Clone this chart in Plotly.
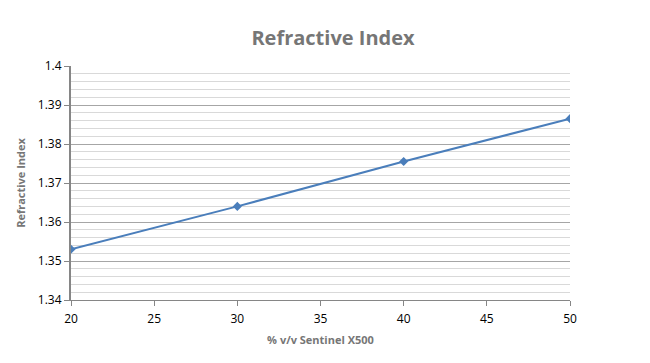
import plotly.graph_objects as go

x_vals = [20, 30, 40, 50]
ri_vals = [1.353, 1.364, 1.3755, 1.3865]
x_ticks = [20, 25, 30, 35, 40, 45, 50]
y_ticks = [1.34, 1.35, 1.36, 1.37, 1.38, 1.39, 1.4]
y_tick_text = ["1.34", "1.35", "1.36", "1.37", "1.38", "1.39", "1.4"]

fig = go.Figure()
fig.add_trace(go.Scatter(
    x=x_vals, y=ri_vals, mode="lines+markers",
    line=dict(color="#4a7ebb", width=2),
    marker=dict(symbol="diamond", size=7, color="#4a7ebb"),
    showlegend=False,
))

font = "Open Sans, Liberation Sans, sans-serif"
fig.update_layout(
    width=650, height=363,
    margin=dict(l=57, r=88, t=58, b=71),
    paper_bgcolor="white", plot_bgcolor="white",
    title=dict(text="<b>Refractive Index</b>", x=0.5, xanchor="center",
               y=0.917, yanchor="middle",
               font=dict(family=font, size=20, color="#767676")),
    font=dict(family=font, size=11, color="black"),
)
fig.update_xaxes(
    range=[20, 50], tickvals=x_ticks, showgrid=False,
    showline=True, linecolor="#868686", linewidth=1,
    ticks="outside", ticklen=5, tickcolor="#868686",
    ticklabelstandoff=3,
    tickfont=dict(size=12, color="black"),
    title=dict(text="<b>% v/v Sentinel X500</b>", standoff=9,
               font=dict(size=11, color="#767676")),
    zeroline=False,
)
fig.update_yaxes(
    range=[1.34, 1.4], tickvals=y_ticks, ticktext=y_tick_text,
    showgrid=True, gridcolor="#a6a6a6", gridwidth=1,
    minor=dict(dtick=0.002, tick0=1.34, showgrid=True, gridcolor="#d9d9d9", gridwidth=1),
    showline=True, linecolor="#868686", linewidth=2,
    ticks="outside", ticklen=5, tickcolor="#868686",
    tickfont=dict(size=12, color="black"),
    title=dict(text="<b>Refractive Index</b>", standoff=10,
               font=dict(size=11, color="#767676")),
    zeroline=False,
)

fig.write_html("out.html")
